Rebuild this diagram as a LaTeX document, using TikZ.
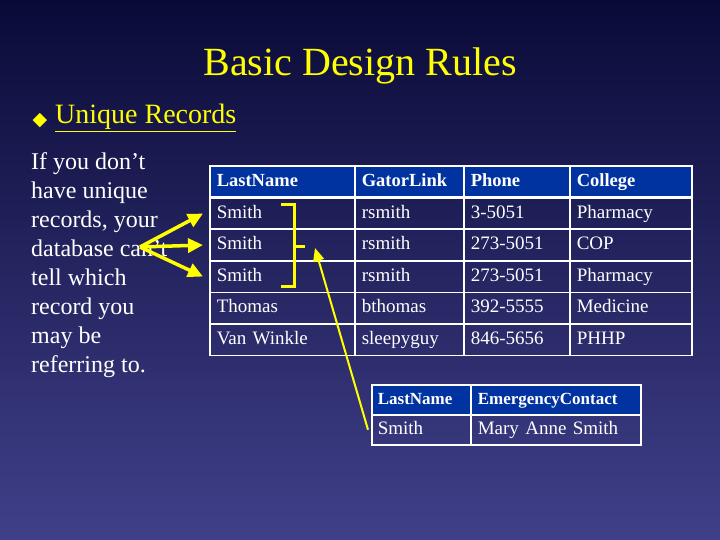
\documentclass[tikz,border=0pt]{standalone}
\usepackage{fontspec}
\setmainfont{Liberation Serif}
\newfontfamily\djv{DejaVu Sans}
\usetikzlibrary{arrows.meta}
\definecolor{bgtop}{HTML}{0A0A38}
\definecolor{bgbot}{HTML}{40408A}
\definecolor{hdr}{HTML}{0033A0}
\definecolor{ylw}{HTML}{FFFF00}
\tikzset{
  cell/.style={draw=white,line width=1.6pt,anchor=north west,inner ysep=0pt,inner xsep=7pt,minimum height=31.5pt,text height=13pt,text depth=4pt,font=\fontsize{19}{19}\selectfont,text=white,align=left},
  hcell/.style={cell,fill=hdr,font=\bfseries\fontsize{18.5}{18.5}\selectfont},
  yarr/.style={draw=ylw,line width=3.5pt,-{Triangle[length=15pt,width=14pt]}},
}
\begin{document}
\begin{tikzpicture}[x=1pt,y=-1pt]
\shade[top color=bgtop,bottom color=bgbot] (0,0) rectangle (720,540);
\useasboundingbox (0,0) rectangle (720,540);
\node[text=ylw,font=\fontsize{40}{40}\selectfont] (title) at (360,66) {Basic Design Rules};
\node[text=ylw,font=\djv\fontsize{19}{19}\selectfont] (bul) at (40,121) {◆};
\node[text=ylw,font=\fontsize{28}{28}\selectfont,anchor=west,inner sep=0pt] (ur) at (55,118) {\underline{Unique Records}};
\node[text=white,font=\fontsize{24}{29}\selectfont,anchor=north west,align=left,inner sep=0pt] (para) at (31,152)
 {If you don’t\\have unique\\records, your\\database can’t\\tell which\\record you\\may be\\referring to.};
% table 1
\foreach \y/\a/\b/\c/\d/\s [count=\i] in {
 165/LastName/GatorLink/Phone/College/hcell,
 197/Smith/rsmith/3-5051/Pharmacy/cell,
 228.5/Smith/rsmith/273-5051/COP/cell,
 260/Smith/rsmith/273-5051/Pharmacy/cell,
 291.5/Thomas/bthomas/392-5555/Medicine/cell,
 323/Van Winkle/sleepyguy/846-5656/PHHP/cell}{
 \node[\s,minimum width=145pt,text width=131pt] (a\i) at (209,\y) {\a};
 \node[\s,minimum width=109pt,text width=95pt] (b\i) at (354,\y) {\b};
 \node[\s,minimum width=106pt,text width=92pt] (c\i) at (463,\y) {\c};
 \node[\s,minimum width=122pt,text width=108pt] (d\i) at (569,\y) {\d};
}
% table 2
\node[hcell,minimum width=99pt,text width=87pt,inner xsep=6pt,minimum height=30pt,font=\bfseries\fontsize{17}{17}\selectfont] (e1) at (371,384) {LastName};
\node[hcell,minimum width=170pt,text width=156pt,minimum height=30pt,font=\bfseries\fontsize{17}{17}\selectfont] (f1) at (470,384) {EmergencyContact};
\node[cell,minimum width=99pt,text width=87pt,inner xsep=6pt,minimum height=30pt] (e2) at (371,414) {Smith};
\node[cell,minimum width=170pt,text width=156pt,minimum height=30pt] (f2) at (470,414) {Mary Anne Smith};
% arrows
\coordinate (o) at (140,247);
\draw[yarr] (o) -- ([xshift=-6pt]a2.west);
\draw[yarr] (o) -- ([xshift=-6pt]a3.west);
\draw[yarr] (o) -- ([xshift=-6pt]a4.west);
\draw[draw=ylw,line width=3pt] (281,205) -- (294,205) -- (294,286) -- (281,286);
\coordinate (bt) at (305,246);
\draw[draw=ylw,line width=3pt] (294,246) -- (bt);
\draw[draw=ylw,line width=2pt,-{Triangle[length=13pt,width=11pt]}] ([xshift=-3pt]e2.west) -- (315,248);
\end{tikzpicture}
\end{document}
